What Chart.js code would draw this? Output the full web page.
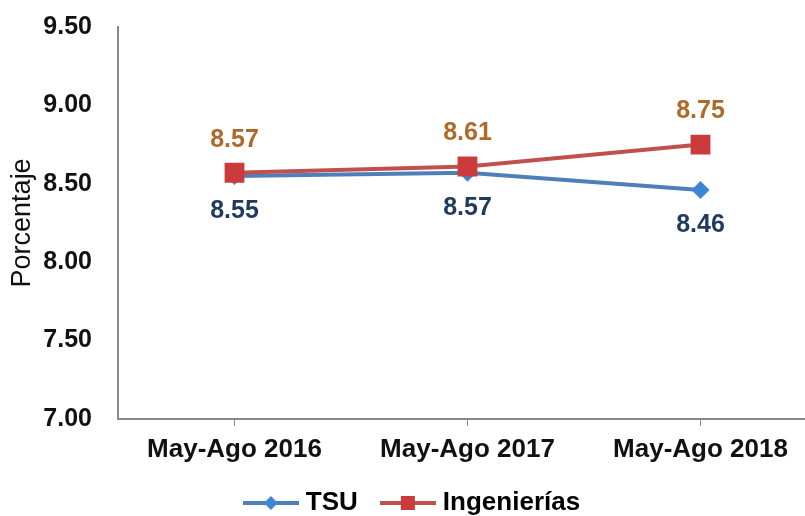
<!DOCTYPE html>
<html>
<head>
<meta charset="utf-8">
<script src="https://cdn.jsdelivr.net/npm/chart.js@4.4.1/dist/chart.umd.min.js"></script>
<style>
  html, body { margin: 0; padding: 0; background: #fff; overflow: hidden; }
  /* the source chart is cut off on the right, so the canvas is a bit wider than the window */
  #wrap { width: 805px; height: 516px; overflow: hidden; }
</style>
</head>
<body>
<div id="wrap"><canvas id="chart" width="831" height="516"></canvas></div>
<script>
const categories = ['May-Ago 2016', 'May-Ago 2017', 'May-Ago 2018'];
const tsuValues = [8.55, 8.57, 8.46];
const ingValues = [8.57, 8.61, 8.75];
const yTicks = [7.0, 7.5, 8.0, 8.5, 9.0, 9.5];

const FONT = '"Liberation Sans", Arial, sans-serif';
const TSU_LINE = '#4F7FBA';
const TSU_MARK = '#3D86D4';
const ING_LINE = '#C0504D';
const ING_MARK = '#CC3B3B';

// line + marker icons for the legend (Excel style)
function legendIcon(kind) {
  const c = document.createElement('canvas');
  c.width = 56; c.height = 20;
  const g = c.getContext('2d');
  g.strokeStyle = kind === 'diamond' ? TSU_LINE : ING_LINE;
  g.lineWidth = 4;
  g.beginPath(); g.moveTo(0, 10); g.lineTo(56, 10); g.stroke();
  g.fillStyle = kind === 'diamond' ? TSU_MARK : ING_MARK;
  g.beginPath();
  if (kind === 'diamond') {
    g.moveTo(28, 3); g.lineTo(35, 10); g.lineTo(28, 17); g.lineTo(21, 10);
  } else {
    g.rect(21, 3, 14, 14);
  }
  g.fill();
  return c;
}

// value labels above / below the points
const valueLabels = {
  id: 'valueLabels',
  afterDatasetsDraw(chart) {
    const ctx = chart.ctx;
    chart.data.datasets.forEach((ds, i) => {
      const meta = chart.getDatasetMeta(i);
      meta.data.forEach((pt, j) => {
        ctx.save();
        ctx.font = 'bold 25px ' + FONT;
        ctx.fillStyle = ds.labelColor;
        ctx.textAlign = 'center';
        ctx.textBaseline = 'middle';
        ctx.fillText(ds.data[j].toFixed(2), pt.x, pt.y + ds.labelOffset);
        ctx.restore();
      });
    });
  }
};

// nudge the legend a little to the right (centre of the visible area)
const legendNudge = {
  id: 'legendNudge',
  afterLayout(chart) {
    chart.legend.left += 6;
    chart.legend.right += 6;
  }
};

new Chart(document.getElementById('chart'), {
  type: 'line',
  data: {
    labels: categories,
    datasets: [
      {
        label: 'TSU',
        data: tsuValues,
        order: 2,
        borderColor: TSU_LINE,
        borderWidth: 4,
        pointStyle: 'rectRot',
        pointRadius: 9,
        pointBackgroundColor: TSU_MARK,
        pointBorderColor: TSU_MARK,
        pointBorderWidth: 0,
        labelColor: '#1F3A5C',
        labelOffset: 35,
        legendIcon: legendIcon('diamond')
      },
      {
        label: 'Ingenierías',
        data: ingValues,
        order: 1,
        borderColor: ING_LINE,
        borderWidth: 4,
        pointStyle: 'rect',
        pointRadius: 14,
        pointBackgroundColor: ING_MARK,
        pointBorderColor: ING_MARK,
        pointBorderWidth: 0,
        labelColor: '#AD6A2A',
        labelOffset: -33,
        legendIcon: legendIcon('square')
      }
    ]
  },
  options: {
    responsive: false,
    animation: false,
    devicePixelRatio: 1,
    layout: { autoPadding: false, padding: { top: 27, right: 14, left: 0, bottom: -10 } },
    plugins: {
      tooltip: { enabled: false },
      legend: {
        position: 'bottom',
        labels: {
          usePointStyle: true,
          pointStyleWidth: 44,
          padding: 28,
          color: '#111',
          font: { family: FONT, size: 26, weight: 'bold' },
          sort: (a, b) => a.datasetIndex - b.datasetIndex,
          generateLabels(chart) {
            return chart.data.datasets.map((ds, i) => ({
              text: ds.label,
              pointStyle: ds.legendIcon,
              datasetIndex: i,
              fillStyle: ds.borderColor,
              strokeStyle: ds.borderColor,
              lineWidth: 0,
              hidden: false
            }));
          }
        }
      }
    },
    scales: {
      x: {
        offset: true,
        afterFit: s => { s.height -= 11; },
        grid: { drawOnChartArea: false, color: '#888', tickLength: 7, lineWidth: 1 },
        border: { color: '#888', width: 2 },
        ticks: { color: '#111', padding: 8, font: { family: FONT, size: 26, weight: 'bold' } }
      },
      y: {
        min: 7,
        max: 9.5,
        afterFit: s => { s.width = 118; s.paddingTop = 0; s.paddingBottom = 0; },
        afterBuildTicks: s => { s.ticks = yTicks.map(v => ({ value: v })); },
        grid: { drawOnChartArea: false, drawTicks: false },
        border: { color: '#888', width: 2 },
        ticks: {
          color: '#111',
          padding: 26,
          font: { family: FONT, size: 25, weight: 'bold' },
          callback: v => v.toFixed(2)
        },
        title: {
          display: true,
          text: 'Porcentaje',
          color: '#111',
          font: { family: FONT, size: 27 },
          padding: { top: 6, bottom: 0 }
        }
      }
    }
  },
  plugins: [valueLabels, legendNudge]
});
</script>
</body>
</html>
